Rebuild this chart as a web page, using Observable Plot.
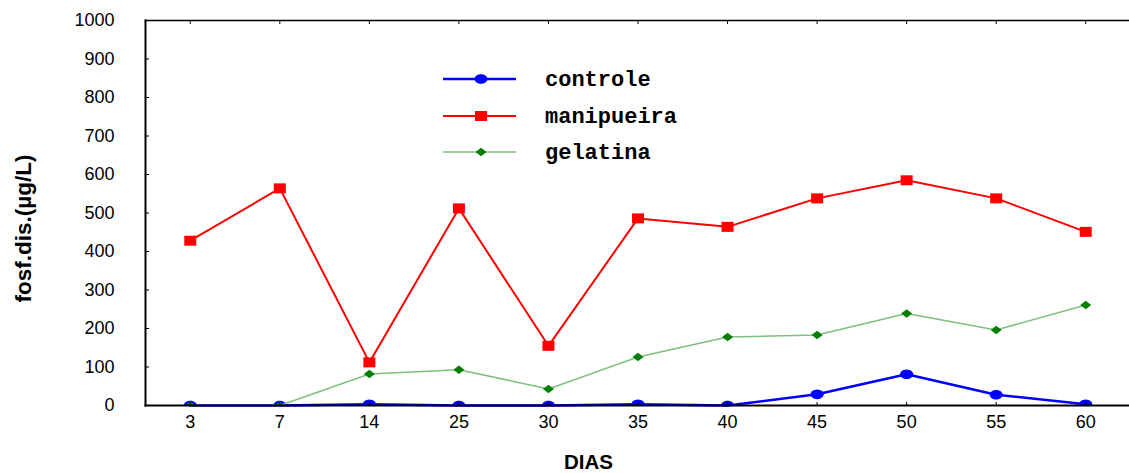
<!DOCTYPE html>
<html><head><meta charset="utf-8">
<script src="https://cdn.jsdelivr.net/npm/d3@7"></script>
<script src="https://cdn.jsdelivr.net/npm/@observablehq/plot@0.6"></script>
<style>
html,body{margin:0;padding:0;background:#fff;overflow:hidden}
#wrap{position:relative;width:1129px;height:473px}
#legend{position:absolute;left:443px;top:0;font:bold 22px "Liberation Mono","Courier New",monospace;color:#000}
.row{position:absolute;left:0;height:24px;display:flex;align-items:center;white-space:nowrap}
.row svg{display:block}
.row span{position:absolute;left:102px;top:2px;line-height:24px}
</style></head><body><div id="wrap"></div>
<script>
// ---- data ----
const dias = ["3","7","14","25","30","35","40","45","50","55","60"];
const controle   = [0, 0, 3, 0, 0, 3, 0, 29, 81, 28, 3];
const manipueira = [428, 564, 112, 512, 155, 486, 464, 538, 585, 538, 451];
const gelatina   = [0, 0, 82, 93, 43, 126, 178, 183, 239, 196, 261];
const yTicks = [0, 100, 200, 300, 400, 500, 600, 700, 800, 900, 1000];
const seriesNames = ["controle", "manipueira", "gelatina"];

// ---- symbols ----
const ellipse = {draw(c){const rx=6.5, ry=4.8, n=28; for(let i=0;i<n;i++){const a=2*Math.PI*i/n; const px=rx*Math.cos(a), py=ry*Math.sin(a); i?c.lineTo(px,py):c.moveTo(px,py);} c.closePath();}};
const rect = {draw(c){c.moveTo(-6,-5);c.lineTo(6,-5);c.lineTo(6,5);c.lineTo(-6,5);c.closePath();}};
const diamond = {draw(c){c.moveTo(-5.5,0);c.lineTo(0,-4.3);c.lineTo(5.5,0);c.lineTo(0,4.3);c.closePath();}};

const series = [
  {name: seriesNames[0], values: controle,   line: "#0000ff", fill: "#0000ff", lw: 2.5, sym: ellipse},
  {name: seriesNames[1], values: manipueira, line: "#ff0000", fill: "#ff0000", lw: 2,   sym: rect},
  {name: seriesNames[2], values: gelatina,   line: "#7fbf7f", fill: "#007f00", lw: 1.6, sym: diamond}
];
const rows = s => dias.map((d, i) => ({dia: d, v: s.values[i]}));

const marks = [];
for (const s of series) {
  marks.push(Plot.lineY(rows(s), {x: "dia", y: "v", stroke: s.line, strokeWidth: s.lw}));
  marks.push(Plot.dot(rows(s), {x: "dia", y: "v", symbol: s.sym, fill: s.fill, stroke: "none", clip: true}));
}

const chart = Plot.plot({
  width: 1129, height: 473,
  marginLeft: 145, marginRight: 0, marginTop: 20, marginBottom: 68,
  style: {fontFamily: "'Liberation Sans', Arial, sans-serif", fontSize: "18px", color: "#000", background: "#fff"},
  x: {type: "point", domain: dias, range: [145, 1130], padding: 0.5, round: false, label: null},
  y: {domain: [0, 1000], label: null},
  marks: [
    ...marks,
    Plot.axisY(yTicks, {tickSize: 0, tickPadding: 31, tickFormat: d => String(d), label: null}),
    Plot.axisY(yTicks, {tickSize: -4, tickFormat: () => "", label: null}),
    Plot.axisX({anchor: "bottom", tickSize: 0, tickPadding: 10, label: null}),
    Plot.axisX({anchor: "bottom", tickSize: -3, tickFormat: () => "", label: null}),
    Plot.axisX({anchor: "top", tickSize: -3, tickFormat: () => "", label: null}),
    Plot.frame({anchor: "left", strokeWidth: 2}),
    Plot.frame({anchor: "top", strokeWidth: 1.5}),
    Plot.frame({anchor: "bottom", strokeWidth: 2}),
    Plot.text(["DIAS"], {frameAnchor: "bottom", dx: -49, dy: 57, textAnchor: "middle", lineAnchor: "middle", fontWeight: "bold", fontSize: 20.5}),
    Plot.text(["fosf.dis.(µg/L)"], {frameAnchor: "left", rotate: -90, dx: -122, dy: 15.5, textAnchor: "middle", lineAnchor: "middle", fontWeight: "bold", fontSize: 22.5})
  ]
});
const wrap = document.getElementById("wrap");
wrap.appendChild(chart);

// ---- legend (HTML overlay) ----
const legend = document.createElement("div");
legend.id = "legend";
const rowY = [79, 116, 152];
series.forEach((s, i) => {
  const r = document.createElement("div");
  r.className = "row";
  r.style.top = (rowY[i] - 12) + "px";
  const svg = d3.create("svg").attr("width", 80).attr("height", 24);
  svg.append("line").attr("x1", 0).attr("x2", 73).attr("y1", 12).attr("y2", 12)
     .attr("stroke", s.line).attr("stroke-width", s.lw);
  const p = d3.path(); s.sym.draw(p);
  svg.append("path").attr("d", p.toString()).attr("transform", "translate(38,12)").attr("fill", s.fill);
  r.appendChild(svg.node());
  const t = document.createElement("span");
  t.textContent = s.name;
  r.appendChild(t);
  legend.appendChild(r);
});
wrap.appendChild(legend);
</script></body></html>
